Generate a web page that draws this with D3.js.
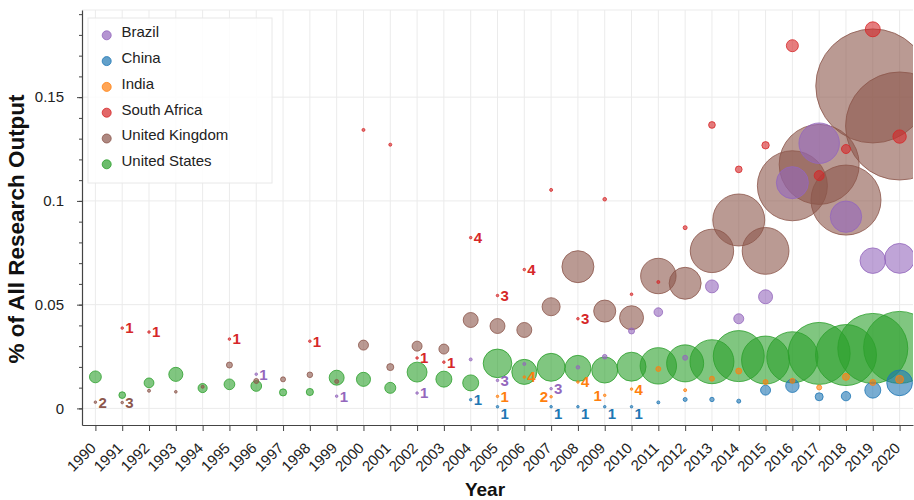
<!DOCTYPE html>
<html>
<head>
<meta charset="utf-8">
<script src="https://cdn.jsdelivr.net/npm/d3@7"></script>
<style>
  html, body { margin: 0; padding: 0; background: #fff; }
  svg { display: block; font-family: "Liberation Sans", Arial, Helvetica, sans-serif; }
</style>
</head>
<body>
<svg id="chart" width="914" height="500"></svg>
<script>
const years = [1990,1991,1992,1993,1994,1995,1996,1997,1998,1999,2000,2001,2002,2003,2004,2005,2006,2007,2008,2009,2010,2011,2012,2013,2014,2015,2016,2017,2018,2019,2020];

const seriesNames = ["Brazil", "China", "India", "South Africa", "United Kingdom", "United States"];

// % of all research output
const brazilValues = [null,null,null,null,null,null,0.0165,null,null,0.0059,null,null,0.0074,null,0.0236,0.0135,0.0214,0.0095,0.0198,0.0249,0.0373,0.0464,0.0244,0.0588,0.0432,0.0538,0.1088,0.1278,0.0924,0.0712,0.0723];
const chinaValues = [null,null,null,null,null,null,null,null,null,null,null,null,null,null,0.0042,0.0008,null,0.0008,0.0008,0.0008,0.0008,0.0029,0.0043,0.0043,0.0035,0.0088,0.0109,0.0056,0.0059,0.0088,0.0123];
const indiaValues = [null,null,null,null,null,null,null,null,null,null,null,null,null,null,null,0.0058,0.0151,0.0056,0.0127,0.0063,0.0093,0.0190,0.0088,0.0143,0.0180,0.0127,0.0133,0.0101,0.0152,0.0125,0.0140];
const southAfricaValues = [null,0.0387,0.0368,null,null,0.0334,null,null,0.0324,null,0.1342,0.1271,0.0243,0.0223,0.0823,0.0544,0.0669,0.1053,0.0432,0.1008,0.0550,0.0609,0.0871,0.1366,0.1152,0.1268,0.1748,0.1122,0.1250,0.1827,0.1310];
const ukValues = [0.0030,0.0028,0.0085,0.0080,0.0104,0.0209,0.0132,0.0140,0.0162,0.0130,0.0305,0.0199,0.0300,0.0286,0.0426,0.0397,0.0378,0.0490,0.0683,0.0469,0.0437,0.0638,0.0603,0.0759,0.0908,0.0759,0.1073,0.1176,0.1004,0.1554,0.1361];
const usValues = [0.0152,0.0064,0.0123,0.0164,0.0098,0.0116,0.0108,0.0077,0.0079,0.0148,0.0140,0.0099,0.0175,0.0141,0.0123,0.0217,0.0176,0.0198,0.0193,0.0185,0.0201,0.0205,0.0217,0.0225,0.0252,0.0233,0.0246,0.0265,0.0257,0.0289,0.0294];

// bubble size (publication count, area-proportional)
const brazilSizes = [null,null,null,null,null,null,1,null,null,1,null,null,1,null,1.4,1,1.4,1,2,3.3,5.6,11.6,3.9,26,15.6,30.6,160,256,154,102,140];
const chinaSizes = [null,null,null,null,null,null,null,null,null,null,null,null,null,null,1,1,null,1,1,1,1,1.4,2.5,3,2.5,15.6,28,10,13.6,40,103];
const indiaSizes = [null,null,null,null,null,null,null,null,null,null,null,null,null,null,null,1,1,1,1,1,1,3.9,1.4,3.9,5.6,3.9,3.9,3.9,7.7,5.6,10];
const southAfricaSizes = [null,1,1,null,null,1,null,null,1,null,1.4,1.4,1,1,1,1,1,1.4,1,2,1.1,1.4,2.5,7,7,8.5,22.5,15.6,12.7,35,28];
const ukSizes = [1,1,1.4,1.1,1.4,5.6,3.9,3.9,4.9,2.5,15.6,7.7,15.6,15.6,35,35,35,51,160,76,90,196,160,294,422,342,766,1000,766,2031,1823];
const usSizes = [22,7,15,31,13,18,18,8,8,35,31,19,62,40,40,128,98,122,106,106,131,207,214,302,406,360,410,600,581,766,810];

// small-count annotations
const brazilLabels = [null,null,null,null,null,null,"1",null,null,"1",null,null,"1",null,null,"3",null,"3",null,null,null,null,null,null,null,null,null,null,null,null,null];
const chinaLabels = [null,null,null,null,null,null,null,null,null,null,null,null,null,null,"1","1",null,"1","1","1","1",null,null,null,null,null,null,null,null,null,null];
const indiaLabels = [null,null,null,null,null,null,null,null,null,null,null,null,null,null,null,"1","4","2","4","1","4",null,null,null,null,null,null,null,null,null,null];
const southAfricaLabels = [null,"1","1",null,null,"1",null,null,"1",null,null,null,"1","1","4","3","4",null,"3",null,null,null,null,null,null,null,null,null,null,null,null];
const ukLabels = ["2","3",null,null,null,null,null,null,null,null,null,null,null,null,null,null,null,null,null,null,null,null,null,null,null,null,null,null,null,null,null];
const usLabels = years.map(() => null);

const yTickValues = [0, 0.05, 0.1, 0.15];

const colors = ["#9467bd", "#1f77b4", "#ff7f0e", "#d62728", "#8c564b", "#2ca02c"];
const allValues = [brazilValues, chinaValues, indiaValues, southAfricaValues, ukValues, usValues];
const allSizes = [brazilSizes, chinaSizes, indiaSizes, southAfricaSizes, ukSizes, usSizes];
const allLabels = [brazilLabels, chinaLabels, indiaLabels, southAfricaLabels, ukLabels, usLabels];

// annotation placement (layout only): default is right of the dot
const labelPlacement = {
  "China-2005": "below", "China-2007": "below", "China-2008": "below",
  "China-2009": "below", "China-2010": "below",
  "India-2007": "left", "India-2009": "left"
};

const points = [];
seriesNames.forEach((s, si) => {
  years.forEach((yr, i) => {
    const v = allValues[si][i];
    if (v == null) return;
    points.push({ series: s, si, year: yr, value: v, size: allSizes[si][i], label: allLabels[si][i] });
  });
});

const svg = d3.select("#chart");
const mLeft = 82, mRight = 913, mTop = 10, mBottom = 425;

const x = d3.scaleLinear().domain([1989.5, 2020.5]).range([mLeft, mRight]);
const y = d3.scaleLinear().domain([-0.008, 0.192]).range([mBottom, mTop]);
const r = d3.scaleSqrt().domain([0, 1000]).range([0, 40]);

svg.append("defs").append("clipPath").attr("id", "plotclip")
  .append("rect").attr("x", mLeft).attr("y", mTop).attr("width", mRight - mLeft).attr("height", mBottom - mTop);

// grid
const grid = svg.append("g").attr("stroke", "#ebebeb").attr("stroke-width", 1);
grid.selectAll("line.v").data(years).join("line").attr("class", "v")
  .attr("x1", d => x(d)).attr("x2", d => x(d)).attr("y1", mTop).attr("y2", mBottom);
grid.selectAll("line.h").data(yTickValues).join("line").attr("class", "h")
  .attr("x1", mLeft).attr("x2", mRight).attr("y1", d => y(d)).attr("y2", d => y(d));
grid.append("line").attr("x1", mLeft).attr("x2", mRight).attr("y1", mTop).attr("y2", mTop);

// bubbles
const sorted = points.slice().sort((a, b) => b.size - a.size);
svg.append("g").attr("clip-path", "url(#plotclip)")
  .selectAll("circle").data(sorted).join("circle")
  .attr("cx", d => x(d.year))
  .attr("cy", d => y(d.value))
  .attr("r", d => r(d.size))
  .attr("fill", d => colors[d.si])
  .attr("fill-opacity", 0.6)
  .attr("stroke", d => colors[d.si])
  .attr("stroke-opacity", 0.8)
  .attr("stroke-width", 1);

// annotations
const place = d => labelPlacement[d.series + "-" + d.year] || "right";
svg.append("g").selectAll("text").data(points.filter(d => d.label)).join("text")
  .attr("x", d => x(d.year) + (place(d) === "left" ? -3 : 3))
  .attr("y", d => y(d.value) + (place(d) === "below" ? 7 : 0))
  .attr("dy", "0.36em")
  .attr("text-anchor", d => place(d) === "left" ? "end" : "start")
  .attr("fill", d => colors[d.si])
  .attr("font-size", 15)
  .attr("font-weight", "bold")
  .text(d => d.label);

// axes
const axisColor = "#444";
const xAxis = svg.append("g").attr("transform", `translate(0,${mBottom})`)
  .call(d3.axisBottom(x).tickValues(years).tickFormat(d3.format("d")).tickSize(6).tickSizeOuter(0));
xAxis.select(".domain").attr("stroke", axisColor).attr("stroke-width", 1.2);
xAxis.selectAll(".tick line").attr("stroke", axisColor);
xAxis.selectAll(".tick text")
  .attr("x", 0).attr("y", 0).attr("dy", 0)
  .attr("text-anchor", "end")
  .attr("transform", "translate(1,24) rotate(-45)")
  .attr("font-size", 15).attr("fill", "#222")
  .attr("font-family", "Liberation Sans, Arial, sans-serif");

const yMinor = svg.append("g").attr("transform", `translate(${mLeft},0)`)
  .call(d3.axisLeft(y).tickValues(d3.range(0, 20).map(i => i / 100)).tickFormat("").tickSize(3).tickSizeOuter(0));
yMinor.select(".domain").remove();
yMinor.selectAll(".tick line").attr("stroke", axisColor);

const yAxis = svg.append("g").attr("transform", `translate(${mLeft},0)`)
  .call(d3.axisLeft(y).tickValues(yTickValues).tickFormat(d3.format("~g")).tickSize(5).tickPadding(13).tickSizeOuter(0));
yAxis.select(".domain").attr("stroke", axisColor).attr("stroke-width", 1.2);
yAxis.selectAll(".tick line").attr("stroke", axisColor);
yAxis.selectAll(".tick text").attr("font-size", 15).attr("fill", "#222")
  .attr("font-family", "Liberation Sans, Arial, sans-serif");

// axis titles
svg.append("text")
  .attr("transform", "translate(24,229) rotate(-90)")
  .attr("text-anchor", "middle")
  .attr("font-size", 22.5).attr("font-weight", "bold").attr("fill", "#111")
  .text("% of All Research Output");
svg.append("text")
  .attr("x", 485).attr("y", 496)
  .attr("text-anchor", "middle")
  .attr("font-size", 19).attr("font-weight", "bold").attr("fill", "#111")
  .text("Year");

// legend
const legend = svg.append("g");
legend.append("rect").attr("x", 88).attr("y", 18).attr("width", 184).attr("height", 165)
  .attr("fill", "#fff").attr("fill-opacity", 0.85).attr("stroke", "#e8e8e8");
const items = legend.selectAll("g.item").data(seriesNames).join("g").attr("class", "item")
  .attr("transform", (d, i) => `translate(0,${i * 25.8})`);
items.append("circle").attr("cx", 106.7).attr("cy", 35.3).attr("r", 4.5)
  .attr("fill", (d, i) => colors[i]).attr("fill-opacity", 0.7)
  .attr("stroke", (d, i) => colors[i]).attr("stroke-opacity", 0.8);
items.append("text").attr("x", 121.5).attr("y", 37.3)
  .attr("font-size", 15).attr("fill", "#222")
  .text(d => d);
</script>
</body>
</html>
